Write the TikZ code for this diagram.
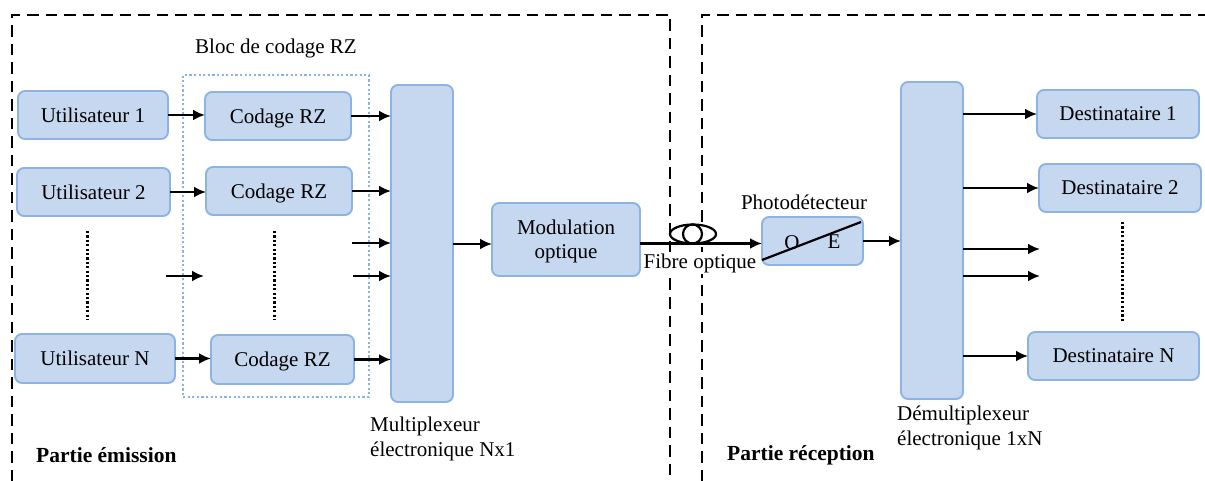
\documentclass[tikz,border=0pt]{standalone}
\usepackage{fontspec}
\setmainfont{Liberation Serif}
\usetikzlibrary{arrows.meta,calc,shapes.geometric}
\definecolor{boxfill}{HTML}{C6D8F0}
\definecolor{boxline}{HTML}{8DB3E2}
\tikzset{
  bloc/.style={draw=boxline,fill=boxfill,line width=1.9pt,rounded corners=7pt,anchor=north west,inner sep=0pt,outer sep=0pt,align=center,font=\fontsize{21}{26}\selectfont},
  fleche/.style={line width=2.5pt,-{Latex[length=12pt,width=11pt]}},
  cadre/.style={line width=2.7pt,dash pattern=on 11.5pt off 7pt},
  pointille/.style={line width=2.4pt,dash pattern=on 2.2pt off 2.2pt},
  legende/.style={font=\fontsize{21}{25}\selectfont,inner sep=0pt,align=left},
  titre/.style={font=\fontsize{21.5}{26}\selectfont\bfseries,inner sep=0pt},
  boucle/.style={draw,line width=2.2pt,fill=none,ellipse,inner sep=0pt,outer sep=0pt}
}
\newcommand{\blocbox}[6]{\node[bloc,minimum width=#4pt-#2pt,minimum height=#5pt-#3pt,text depth=0pt] (#1) at (#2,#3) {#6};}
\begin{document}
\begin{tikzpicture}[x=1pt,y=-1pt]
\useasboundingbox (0,0) rectangle (1205,481);
% frames
\coordinate (f1a) at (12,481); \coordinate (f1b) at (12,15); \coordinate (f1c) at (670,15); \coordinate (f1d) at (670,481);
\coordinate (f2a) at (702,481); \coordinate (f2b) at (702,15); \coordinate (f2c) at (1205,15);
\draw[cadre] (f1a) -- (f1b) -- (f1c) -- (f1d);
\draw[cadre] (f2a) -- (f2b) -- (f2c);
% dotted block
\node[draw=boxline,line width=2pt,dash pattern=on 2.2pt off 2.4pt,minimum width=186pt,minimum height=322pt,inner sep=0pt,outer sep=0pt,anchor=north west] (bloc) at (183,75) {};
% boxes
\blocbox{u1}{18}{91}{168}{139}{Utilisateur 1}
\blocbox{u2}{17}{168}{170}{216}{Utilisateur 2}
\blocbox{un}{15}{334}{175}{383}{Utilisateur N}
\blocbox{c1}{205}{92}{351}{140}{Codage RZ}
\blocbox{c2}{206}{167}{352}{215}{Codage RZ}
\blocbox{cn}{211}{335}{354}{384}{Codage RZ}
\blocbox{mux}{391}{85}{453}{402}{}
\blocbox{mod}{492}{203}{640}{276}{Modulation\\[-2pt]optique}
\blocbox{pd}{762}{217}{863}{265}{}
\blocbox{dmx}{901}{82}{963}{399}{}
\blocbox{d1}{1037}{90}{1199}{138}{Destinataire 1}
\blocbox{d2}{1039}{164}{1201}{212}{Destinataire 2}
\blocbox{dn}{1028}{332}{1199}{380}{Destinataire N}
% photodetector
\node[legende] (lo) at (792,243) {O};
\node[legende] (le) at (834,242) {E};
\draw[line width=2.2pt] ($(pd.south west)+(0,-5)$) coordinate (pa) -- ($(pd.north east)+(-2,5)$) coordinate (pb);
% left arrows
\draw[fleche] (u1.east) -- (u1.east -| c1.west);
\draw[fleche] (u2.east) -- (u2.east -| c2.west);
\draw[fleche] (un.east) -- (un.east -| cn.west);
\draw[fleche] (c1.east) -- (c1.east -| mux.west);
\draw[fleche] (c2.east) -- (c2.east -| mux.west);
\draw[fleche] (cn.east) -- (cn.east -| mux.west);
\coordinate (s1) at (352,243); \coordinate (s2) at (353,276); \coordinate (s3) at (166,276); \coordinate (s4) at (204,276);
\draw[fleche] (s1) -- (s1 -| mux.west);
\draw[fleche] (s2) -- (s2 -| mux.west);
\draw[fleche] (s3) -- (s4);
\coordinate (m1) at (453,244);
\draw[fleche] (m1) -- (m1 -| mod.west);
% fibre
\node[fill=white,inner sep=0pt,minimum width=45pt,minimum height=20pt] (fw) at (693,234) {};
\node[boucle,minimum width=46pt,minimum height=19pt] (fe) at (693,234) {};
\node[boucle,circle,minimum size=19pt] (fc) at (692.5,234) {};
\coordinate (fa) at (640,243.5);
\draw[fleche] (fa) -- (fa -| pd.west);
\node[legende,fill=white,inner ysep=1pt] (fl) at (700,263) {Fibre optique};
\node[legende] (ph) at (804,202) {Photodétecteur};
% right arrows
\coordinate (p1) at (863,241);
\draw[fleche] (p1) -- (p1 -| dmx.west);
\draw[fleche] (dmx.east |- d1.west) -- (d1.west);
\draw[fleche] (dmx.east |- d2.west) -- (d2.west);
\draw[fleche] (dmx.east |- dn.west) -- (dn.west);
\coordinate (t1) at (1040,249); \coordinate (t2) at (1040,276);
\draw[fleche] (t1 -| dmx.east) -- (t1);
\draw[fleche] (t2 -| dmx.east) -- (t2);
% dots
\coordinate (v1a) at (87.5,231); \coordinate (v1b) at (87.5,320);
\coordinate (v2a) at (274.5,231); \coordinate (v2b) at (274.5,320);
\coordinate (v3a) at (1122.5,222); \coordinate (v3b) at (1122.5,322);
\draw[pointille] (v1a) -- (v1b);
\draw[pointille] (v2a) -- (v2b);
\draw[pointille] (v3a) -- (v3b);
% captions
\node[legende,anchor=west] (tb) at (195,48) {Bloc de codage RZ};
\node[legende,anchor=north west] (tm) at (370,417) {Multiplexeur\\électronique Nx1};
\node[legende,anchor=north west] (td) at (897,406) {Démultiplexeur\\électronique 1xN};
\node[titre,anchor=west] (te) at (36,455) {Partie émission};
\node[titre,anchor=west] (tr) at (727,455) {Partie réception};
\end{tikzpicture}
\end{document}
